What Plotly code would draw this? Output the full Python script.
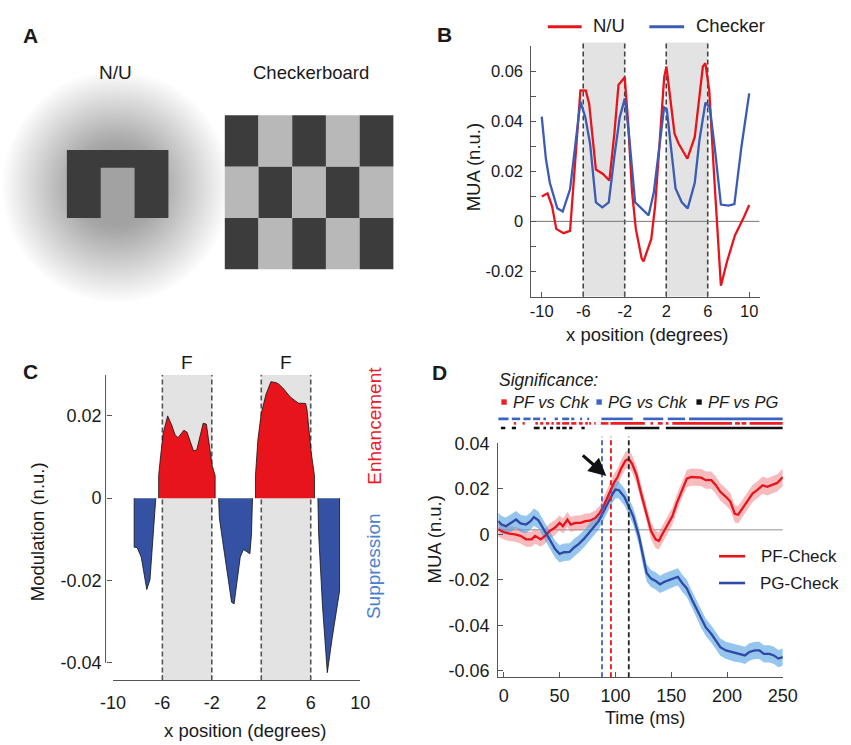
import plotly.graph_objects as go

W, H = 851, 745
FONT = "Arial, Liberation Sans, Helvetica, sans-serif"
INK = "#1a1a1a"
AX = "#555555"

# ---------------- Panel B data ----------------
nu_x = [-10.0, -9.44, -9.0, -8.6, -7.9, -7.27, -6.27, -5.75, -5.43, -4.78, -4.1, -3.48, -3.0, -2.6, -2.0,
        -1.68, -1.3, -0.93, -0.37, -0.19, 0.56, 0.93, 1.34, 1.8, 2.02, 2.42, 2.8, 3.2, 4.04, 4.75, 5.2,
        5.53, 5.78, 6.15, 6.6, 7.27, 7.86, 8.63, 9.41, 10.0]
nu_y = [0.0099, 0.0112, 0.006, -0.003, -0.0047, -0.0038, 0.0523, 0.0522, 0.047, 0.0207, 0.0189, 0.0163,
        0.035, 0.0545, 0.0575, 0.04, 0.012, -0.003, -0.0148, -0.016, -0.007, 0.0063, 0.03, 0.0575,
        0.0618, 0.048, 0.035, 0.031, 0.025, 0.0337, 0.05, 0.0618, 0.0631, 0.052, 0.0193, -0.0257,
        -0.016, -0.0055, 0.001, 0.0065]
chk_x = [-10.0, -9.6, -9.22, -8.5, -7.98, -7.27, -6.27, -5.8, -5.34, -4.78, -4.16, -3.54, -3.0, -2.48,
         -1.99, -1.6, -1.0, -0.37, 0.3, 0.8, 1.33, 1.8, 2.05, 2.42, 2.9, 3.5, 4.07, 4.75, 5.2, 5.78,
         6.2, 6.7, 7.27, 8.0, 8.57, 9.25, 10.0]
chk_y = [0.0418, 0.025, 0.0154, 0.0052, 0.0039, 0.0128, 0.0478, 0.0416, 0.031, 0.0076, 0.0056, 0.0076,
         0.0259, 0.0416, 0.0491, 0.035, 0.0076, 0.005, 0.0024, 0.0115, 0.03, 0.0455, 0.0448, 0.0298,
         0.0131, 0.0076, 0.0052, 0.0154, 0.0324, 0.0474, 0.0455, 0.0285, 0.0067, 0.0063, 0.0069,
         0.0298, 0.0511]
fig_regions = [(-6, -2), (2, 6)]
x_ticks_pos = [-10, -6, -2, 2, 6, 10]

# ---------------- Panel C data ----------------
enh1_x = [-6.30, -6.30, -6.14, -5.93, -5.57, -5.25, -4.97, -4.73, -4.47, -4.26, -4.0, -3.74, -3.48, -3.22,
          -2.96, -2.70, -2.44, -2.23, -1.97, -1.73, -1.73]
enh1_y = [0, 0.0055, 0.0103, 0.0158, 0.020, 0.0178, 0.0154, 0.0147, 0.0157, 0.0165, 0.016, 0.0135,
          0.0115, 0.0117, 0.0149, 0.0182, 0.018, 0.0135, 0.0079, 0.0055, 0]
enh2_x = [1.53, 1.53, 1.73, 2.0, 2.39, 2.78, 3.17, 3.43, 3.82, 4.34, 4.99, 5.59, 5.70, 6.04, 6.30, 6.30]
enh2_y = [0, 0.0055, 0.0143, 0.0206, 0.0253, 0.0283, 0.0281, 0.0277, 0.0265, 0.0246, 0.0231, 0.023,
          0.0214, 0.0111, 0.0055, 0]
sup1_x = [-8.28, -8.28, -8.04, -7.71, -7.26, -7.0, -6.53]
sup1_y = [0, -0.0119, -0.012, -0.0143, -0.0222, -0.0198, 0]
sup2_x = [-1.45, -1.39, -1.13, -0.74, -0.40, -0.20, 0.04, 0.30, 0.56, 0.90, 1.08, 1.21, 1.29]
sup2_y = [0, -0.0048, -0.0103, -0.0182, -0.0253, -0.0257, -0.0198, -0.0143, -0.0125, -0.0131, -0.0135,
          -0.0087, 0]
sup3_x = [6.58, 6.64, 6.95, 7.34, 7.73, 8.33, 8.33]
sup3_y = [0, -0.0087, -0.0261, -0.0424, -0.0341, -0.0226, 0]

# ---------------- Panel D data ----------------
pf_t = [-5, 0, 5, 10, 15, 20, 25, 28, 33, 37, 41, 46, 50, 53, 57, 60, 64, 69, 73, 77, 82, 86, 90, 95, 99,
        102, 105, 109, 112, 115, 119, 123, 128, 132, 136, 139, 142, 147, 151, 155, 160, 164, 168, 173,
        177, 181, 186, 190, 194, 199, 203, 207, 210, 214, 219, 223, 227, 232, 236, 240, 245, 250]
pf_v = [0.0022, 0.001, 0.0003, 0.0, -0.0007, -0.0022, -0.0022, -0.0007, -0.0022, -0.0007, 0.0014, 0.003,
        0.005, 0.0036, 0.0065, 0.0043, 0.005, 0.005, 0.0058, 0.006, 0.0072, 0.0093, 0.013, 0.0187, 0.023,
        0.0252, 0.0288, 0.0324, 0.0332, 0.031, 0.026, 0.018, 0.0093, 0.0014, -0.0022, -0.0029, 0.0,
        0.0043, 0.0079, 0.0137, 0.0201, 0.0245, 0.0252, 0.0252, 0.0249, 0.0238, 0.0238, 0.0216, 0.0187,
        0.0165, 0.0144, 0.009, 0.0086, 0.0115, 0.0151, 0.018, 0.0194, 0.0216, 0.0209, 0.0216, 0.0226,
        0.0252]
pf_sem = [0.0033] * 22 + [0.0038] * 40
pg_t = [-5, -2, 2, 7, 11, 15, 20, 24, 27, 31, 36, 41, 46, 50, 54, 59, 63, 67, 72, 76, 80, 85, 89, 93, 97,
        100, 103, 108, 112, 116, 121, 125, 128, 132, 136, 140, 144, 148, 152, 156, 160, 164, 168, 173,
        177, 181, 186, 190, 194, 199, 203, 207, 212, 216, 220, 225, 229, 233, 238, 242, 246, 250]
pg_v = [0.0058, 0.0043, 0.0036, 0.005, 0.0065, 0.0048, 0.0043, 0.0058, 0.0076, 0.0062, 0.0022, -0.0022,
        -0.0065, -0.0086, -0.0079, -0.0077, -0.0058, -0.0043, -0.0019, 0.0004, 0.0029, 0.0058, 0.0096,
        0.0137, 0.0173, 0.0197, 0.0195, 0.0165, 0.0125, 0.0079, -0.0007, -0.0108, -0.017, -0.0195,
        -0.0205, -0.022, -0.0209, -0.0202, -0.0194, -0.0187, -0.0216, -0.0238, -0.0281, -0.0331, -0.0375,
        -0.041, -0.0439, -0.0468, -0.0497, -0.0511, -0.0516, -0.0523, -0.0526, -0.0533, -0.0518, -0.0511,
        -0.0511, -0.0526, -0.0526, -0.0533, -0.0547, -0.054]
pg_sem = [0.0038] * 62
onset_t = [88, 96, 112]
onset_col = ["#3b63c4", "#e8141c", "#222222"]
baseline_v = 0.002
sig_pg_chk = [(-5, 4.3), (7.2, 14.7), (17.6, 24), (26.3, 32.6), (35.5, 37.8), (45.6, 48.5), (52.3, 58.6),
              (60.4, 63.2), (68.4, 70.2), (74.8, 76.5), (87.5, 115.5), (125, 142.9), (146.9, 162.5),
              (166, 250)]
sig_pf_chk = [(9, 11), (16.8, 18.8), (28.3, 30.6), (32.6, 35.5), (37.8, 40.7), (42.7, 44.8), (47.1, 50.5),
              (52.3, 58.6), (60.4, 65), (67.3, 70.7), (73, 75.4), (76.5, 78.2), (81.1, 82.3), (86.9, 93.8),
              (95.6, 126.4), (131.4, 133.7), (138, 142.3), (145.2, 147.5), (151, 204.4), (207.2, 211.6),
              (213, 217.3), (220.2, 250)]
sig_pf_pg = [(-2.6, 1.4), (7.2, 11), (26.9, 32.1), (35.5, 37.8), (41.3, 44.2), (47.1, 50.5), (52.3, 56.3),
             (58.6, 61.5), (69.6, 72.5), (108.3, 139.4), (145.2, 250)]

RED = "#e8141c"
BLUE_B = "#3b5cb5"
BLUE_D = "#2f4aa6"


def px(x):
    return x / W


def py(y):
    return 1 - y / H


fig = go.Figure()
shapes = []
ann = []


def text(x, y, s, size=18, color=INK, xa="center", ya="middle", angle=0, bold=False, italic=False):
    if bold:
        s = "<b>" + s + "</b>"
    if italic:
        s = "<i>" + s + "</i>"
    ann.append(dict(x=px(x), y=py(y), xref="paper", yref="paper", text=s, showarrow=False,
                    xanchor=xa, yanchor=ya, textangle=angle,
                    font=dict(family=FONT, size=size, color=color)))


# ---------------- Panel A (stimuli illustration) ----------------
cx, cy = 106.7, 180
nring = 32
a_ring = 1 - 0.70 ** (1 / nring)
for i in range(nring):
    r = 118 - i * (118 - 40) / (nring - 1)
    shapes.append(dict(type="circle", xref="paper", yref="paper", x0=px(cx - r), x1=px(cx + r),
                       y0=py(cy + r), y1=py(cy - r), line=dict(width=0),
                       fillcolor="rgba(0,0,0,%.4f)" % a_ring, layer="below"))
upath = "M {a},{b} L {c},{b} L {c},{d} L {e},{d} L {e},{f} L {g},{f} L {g},{d} L {a},{d} Z".format(
    a=px(55.7), b=py(142.7), c=px(160.7), d=py(212), e=px(125.7), f=py(160.7), g=px(90.7))
shapes.append(dict(type="path", xref="paper", yref="paper", path=upath, fillcolor="#3c3c3c",
                   line=dict(width=0)))
bx0, by0, cw, ch = 219, 107.3, 34.86, 52.33
for r in range(3):
    for c in range(5):
        col = "#3c3c3c" if (r + c) % 2 == 0 else "#b8b8b8"
        shapes.append(dict(type="rect", xref="paper", yref="paper",
                           x0=px(bx0 + c * cw), x1=px(bx0 + (c + 1) * cw),
                           y0=py(by0 + (r + 1) * ch), y1=py(by0 + r * ch),
                           fillcolor=col, line=dict(width=0)))
text(106, 64, "N/U", 19)
text(307.7, 64, "Checkerboard", 18.5)

# ---------------- Panel B ----------------
for (a, b) in fig_regions:
    shapes.append(dict(type="rect", xref="x", yref="paper", x0=a, x1=b, y0=py(292), y1=py(33),
                       fillcolor="#e3e3e3", line=dict(width=0), layer="below"))
for v in [r for reg in fig_regions for r in reg]:
    shapes.append(dict(type="line", xref="x", yref="paper", x0=v, x1=v, y0=py(292), y1=py(33),
                       line=dict(color="#444", width=1.6, dash="5px,3px"), layer="below"))
shapes.append(dict(type="line", xref="x", yref="y", x0=-11, x1=11, y0=0, y1=0,
                   line=dict(color="#777", width=1), layer="below"))
fig.add_trace(go.Scatter(x=nu_x, y=nu_y, mode="lines", line=dict(color=RED, width=2.3), name="N/U",
                         xaxis="x", yaxis="y", showlegend=False))
fig.add_trace(go.Scatter(x=chk_x, y=chk_y, mode="lines", line=dict(color=BLUE_B, width=2.3),
                         name="Checker", xaxis="x", yaxis="y", showlegend=False))
shapes.append(dict(type="line", xref="paper", yref="paper", x0=px(553), x1=px(588), y0=py(17), y1=py(17),
                   line=dict(color=RED, width=3)))
shapes.append(dict(type="line", xref="paper", yref="paper", x0=px(658), x1=px(694), y0=py(17), y1=py(17),
                   line=dict(color=BLUE_B, width=3)))
text(598, 16, "N/U", 18.5, xa="left")
text(704, 16, "Checker", 18.5, xa="left")
text(477, 160, "MUA (n.u.)", 18.5, angle=-90)
text(656, 331, "x position (degrees)", 18.5)

# ---------------- Panel C ----------------
for (a, b) in fig_regions:
    shapes.append(dict(type="rect", xref="x2", yref="y2", x0=a, x1=b, y0=-0.0443, y1=0.03,
                       fillcolor="#e3e3e3", line=dict(width=0), layer="below"))
for v in [r for reg in fig_regions for r in reg]:
    shapes.append(dict(type="line", xref="x2", yref="y2", x0=v, x1=v, y0=-0.0443, y1=0.03,
                       line=dict(color="#555", width=1.6, dash="5px,3px"), layer="below"))
shapes.append(dict(type="line", xref="paper", yref="y2", x0=px(95.7), x1=px(95.7), y0=-0.04, y1=0.03,
                   line=dict(color=AX, width=1)))
for xs, ys, col in [(enh1_x, enh1_y, RED), (enh2_x, enh2_y, RED), (sup1_x, sup1_y, "#3451a3"),
                    (sup2_x, sup2_y, "#3451a3"), (sup3_x, sup3_y, "#3451a3")]:
    fig.add_trace(go.Scatter(x=xs, y=ys, mode="lines", fill="toself", fillcolor=col,
                             line=dict(color="#111", width=0.8), xaxis="x2", yaxis="y2",
                             showlegend=False))
for xv in [-4, 4]:
    ann.append(dict(x=xv, y=py(359), xref="x2", yref="paper", text="F", showarrow=False,
                    font=dict(family=FONT, size=19, color=INK)))
text(373, 424, "Enhancement", 19, color="#e8202a", angle=-90)
text(373, 567, "Suppression", 19, color="#4a80cf", angle=-90)
text(25, 532, "Modulation (n.u.)", 18.5, angle=-90)
text(240, 734, "x position (degrees)", 18.5)

# ---------------- Panel D ----------------
shapes.append(dict(type="line", xref="x3", yref="y3", x0=-5, x1=250, y0=baseline_v, y1=baseline_v,
                   line=dict(color="#b5b5b5", width=1.5), layer="below"))
pf_up = [v + s for v, s in zip(pf_v, pf_sem)]
pf_lo = [v - s for v, s in zip(pf_v, pf_sem)]
pg_up = [v + s for v, s in zip(pg_v, pg_sem)]
pg_lo = [v - s for v, s in zip(pg_v, pg_sem)]
fig.add_trace(go.Scatter(x=pf_t + pf_t[::-1], y=pf_up + pf_lo[::-1], fill="toself",
                         fillcolor="rgba(240,120,125,0.5)", line=dict(width=0), mode="lines",
                         xaxis="x3", yaxis="y3", showlegend=False, hoverinfo="skip"))
fig.add_trace(go.Scatter(x=pg_t + pg_t[::-1], y=pg_up + pg_lo[::-1], fill="toself",
                         fillcolor="rgba(80,160,225,0.6)", line=dict(width=0), mode="lines",
                         xaxis="x3", yaxis="y3", showlegend=False, hoverinfo="skip"))
fig.add_trace(go.Scatter(x=pf_t, y=pf_v, mode="lines", line=dict(color=RED, width=2.3),
                         name="PF-Check", xaxis="x3", yaxis="y3", showlegend=False))
fig.add_trace(go.Scatter(x=pg_t, y=pg_v, mode="lines", line=dict(color=BLUE_D, width=2.3),
                         name="PG-Check", xaxis="x3", yaxis="y3", showlegend=False))
for t, c in zip(onset_t, onset_col):
    shapes.append(dict(type="line", xref="x3", yref="paper", x0=t, x1=t, y0=py(680), y1=py(435),
                       line=dict(color=c, width=1.8, dash="5px,3px"), layer="above"))
for segs, yy, c in [(sig_pg_chk, 416.7, "#3b63c4"), (sig_pf_chk, 421.3, "#ee1c25"),
                    (sig_pf_pg, 426, "#111111")]:
    for (a, b) in segs:
        shapes.append(dict(type="line", xref="x3", yref="paper", x0=a, x1=b, y0=py(yy), y1=py(yy),
                           line=dict(color=c, width=2.6)))
text(500, 377, "Significance:", 17.5, xa="left", italic=True)
for sx, lab, c in [(505, "PF vs Chk", "#ee1c25"), (603.3, "PG vs Chk", "#3b63c4"), (706.7, "PF vs PG", "#111")]:
    shapes.append(dict(type="rect", xref="paper", yref="paper", x0=px(sx), x1=px(sx + 5.5),
                       y0=py(402.3), y1=py(396.8), fillcolor=c, line=dict(width=0)))
    text(sx + 10, 399.5, lab, 16.5, xa="left", italic=True)
ann.append(dict(x=px(613.5), y=py(475), xref="paper", yref="paper", text="", showarrow=True,
                ax=-25, ay=-22, arrowhead=2, arrowsize=1.1, arrowwidth=3.2, arrowcolor="#111"))
shapes.append(dict(type="line", xref="paper", yref="paper", x0=px(730), x1=px(757), y0=py(556.7),
                   y1=py(556.7), line=dict(color=RED, width=2.6)))
shapes.append(dict(type="line", xref="paper", yref="paper", x0=px(730), x1=px(757), y0=py(584),
                   y1=py(584), line=dict(color=BLUE_D, width=2.6)))
text(771.5, 556.7, "PF-Check", 17, xa="left")
text(770, 584, "PG-Check", 17, xa="left")
text(436, 540, "MUA (n.u.)", 18.5, angle=-90)
text(653, 722, "Time (ms)", 18)

# ---------------- Panel letters ----------------
text(18.5, 26, "A", 21, bold=True)
text(446, 25, "B", 21, bold=True)
text(18.5, 368, "C", 21, bold=True)
text(441, 369, "D", 21, bold=True)


def fmt(v):
    return "%g" % v


common = dict(showgrid=False, zeroline=False, ticks="inside", ticklen=5, tickcolor=AX, linecolor=AX,
              linewidth=1, fixedrange=True)

fig.update_layout(
    width=W, height=H, autosize=False, margin=dict(l=0, r=0, t=0, b=0),
    paper_bgcolor="white", plot_bgcolor="rgba(0,0,0,0)", showlegend=False,
    font=dict(family=FONT, color=INK),
    xaxis=dict(domain=[px(536), px(772)], range=[-11, 11], anchor="y", showline=True,
               tickvals=x_ticks_pos, ticktext=[fmt(v) for v in x_ticks_pos],
               tickfont=dict(size=16.5, color=INK), ticklabelstandoff=0, **common),
    yaxis=dict(domain=[py(292), py(36.7)], range=[-0.03, 0.07], anchor="x", showline=True,
               tickvals=[-0.02, 0, 0.02, 0.04, 0.06], ticktext=["-0.02", "0", "0.02", "0.04", "0.06"],
               minor=dict(dtick=0.01, tick0=0, ticks="inside", ticklen=5, tickcolor=AX),
               tickfont=dict(size=16.5, color=INK), ticklabelstandoff=4, **common),
    xaxis2=dict(domain=[px(103.3), px(359)], range=[-10, 10], anchor="y2", showline=True,
                tickvals=x_ticks_pos, ticktext=[fmt(v) for v in x_ticks_pos],
                tickfont=dict(size=18, color=INK), ticklabelstandoff=6, **common),
    yaxis2=dict(domain=[py(683.3), py(371.7)], range=[-0.0443, 0.03], anchor="free", position=px(95.7),
                showline=False, tickvals=[-0.04, -0.02, 0, 0.02], ticktext=["-0.04", "-0.02", "0", "0.02"],
                tickfont=dict(size=18, color=INK), ticklabelstandoff=4, **common),
    xaxis3=dict(domain=[px(501.7), px(796)], range=[-5, 250], anchor="y3", showline=True,
                tickvals=[0, 50, 100, 150, 200, 250], tickfont=dict(size=18, color=INK),
                ticklabelstandoff=2, **common),
    yaxis3=dict(domain=[py(680), py(441.7)], range=[-0.0629, 0.04], anchor="x3", showline=True,
                tickvals=[-0.06, -0.04, -0.02, 0, 0.02, 0.04],
                ticktext=["-0.06", "-0.04", "-0.02", "0", "0.02", "0.04"],
                tickfont=dict(size=18, color=INK), ticklabelstandoff=4, **common),
    shapes=shapes, annotations=ann,
)

fig.write_html(
    "out.html", config={"displayModeBar": False},
    post_script="document.body.style.margin='0';document.body.style.padding='0';"
                "document.documentElement.style.overflow='hidden';document.body.style.overflow='hidden';",
)
